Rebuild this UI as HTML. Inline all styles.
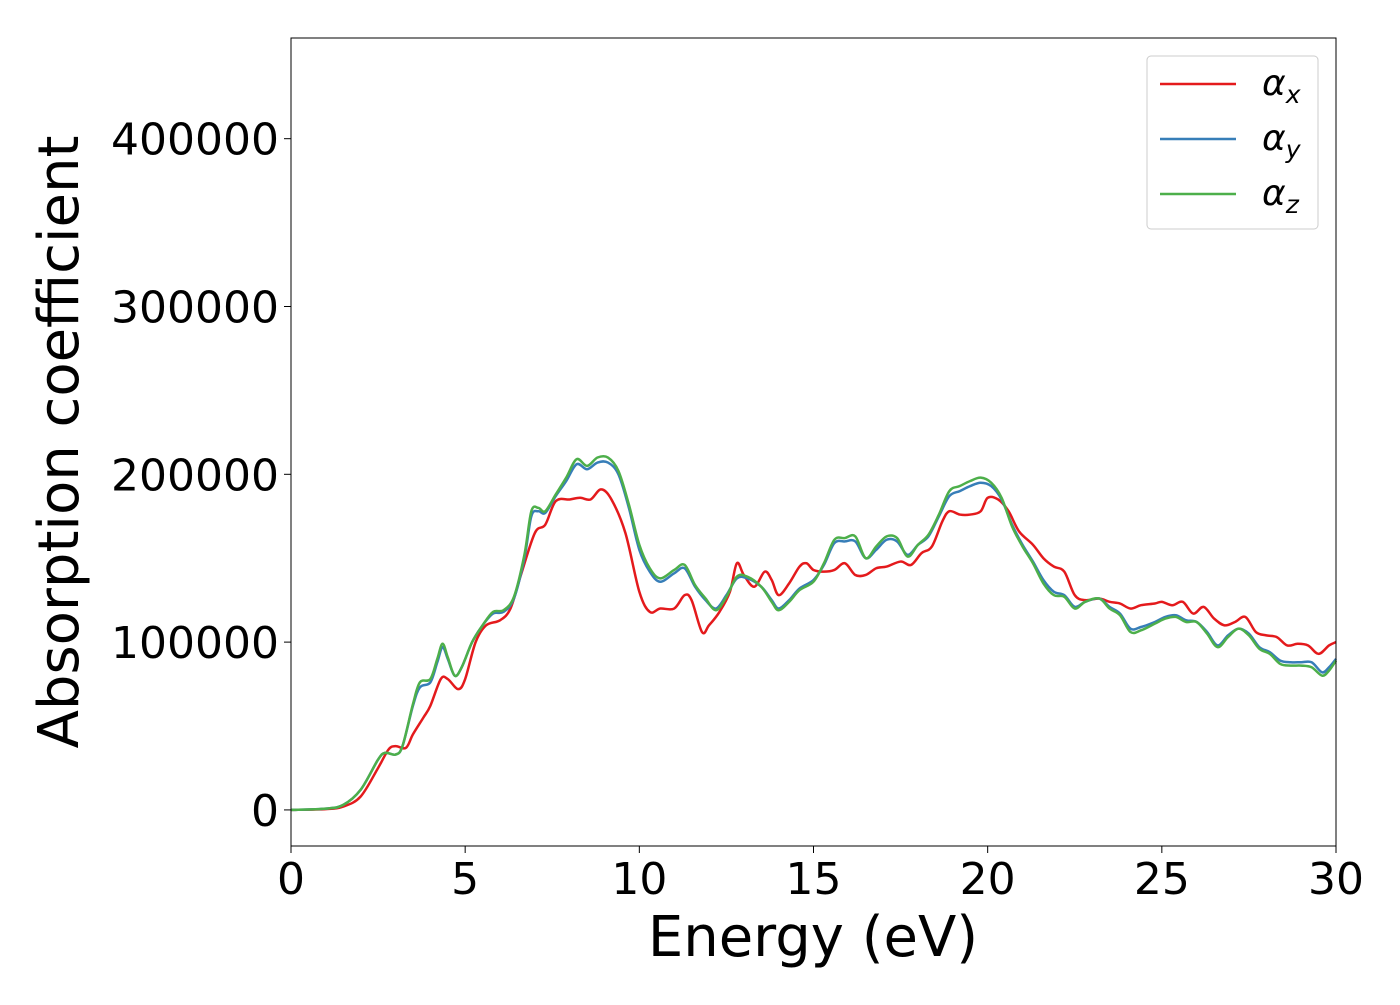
<!DOCTYPE html>
<html><head><meta charset="utf-8"><style>
body{margin:0;background:#fff}
svg text{font-family:"DejaVu Sans","Liberation Sans",sans-serif;fill:#000}
</style></head><body>
<svg id="chart" width="1400" height="1000" xmlns="http://www.w3.org/2000/svg">
<g id="plot"></g>
</svg>
<script>
const xTicks=[0,5,10,15,20,25,30];
const yTicks=[0,100000,200000,300000,400000];
const xsX=[0,1,1.5,2,2.5,2.8,3,3.3,3.5,3.8,4,4.3,4.5,4.8,5,5.3,5.6,6,6.3,6.6,7,7.3,7.6,8,8.3,8.6,8.9,9.2,9.6,10,10.3,10.6,11,11.3,11.5,11.8,12,12.3,12.6,12.8,13,13.3,13.6,13.8,14,14.3,14.6,14.8,15,15.3,15.6,15.9,16.2,16.5,16.8,17.1,17.5,17.8,18.1,18.4,18.7,18.9,19.2,19.5,19.8,20,20.3,20.6,20.9,21.3,21.6,21.9,22.2,22.5,22.8,23.2,23.5,23.8,24.1,24.4,24.8,25,25.3,25.6,25.9,26.2,26.5,26.8,27.1,27.4,27.7,28,28.3,28.6,28.9,29.2,29.5,29.8,30];
const alphaX=[0,500,2000,8000,25000,36000,38000,37000,45000,55000,62000,78000,78000,72000,78000,100000,110000,113000,120000,140000,165000,170000,184000,185000,186000,185000,191000,185000,165000,130000,118000,120000,120000,128000,125000,106000,110000,118000,130000,147000,140000,133000,142000,137000,128000,135000,145000,147000,143000,142000,143000,147000,140000,140000,144000,145000,148000,146000,153000,157000,172000,178000,176000,176000,178000,186000,185000,178000,166000,158000,150000,145000,142000,128000,125000,126000,124000,123000,120000,122000,123000,124000,122000,124000,117000,121000,114000,110000,112000,115000,106000,104000,103000,98000,99000,98000,93000,98000,100000];
const xsYZ=[0,1,1.5,2,2.5,2.7,3,3.2,3.5,3.7,4,4.2,4.35,4.5,4.7,4.9,5.2,5.5,5.8,6.1,6.4,6.7,6.9,7.1,7.3,7.6,7.9,8.2,8.5,8.8,9.1,9.4,9.7,10,10.3,10.6,11,11.3,11.6,11.9,12.2,12.5,12.8,13.1,13.5,13.8,14,14.3,14.6,15,15.3,15.6,15.9,16.2,16.5,16.8,17.1,17.4,17.7,18,18.3,18.6,18.9,19.2,19.5,19.8,20.1,20.4,20.7,21,21.3,21.6,21.9,22.2,22.5,22.8,23.2,23.5,23.8,24.1,24.4,24.8,25.1,25.4,25.7,26,26.3,26.6,26.9,27.2,27.5,27.8,28.1,28.4,28.7,29,29.3,29.6,29.8,30];
const alphaY=[0,800,3000,12000,30000,34000,33000,38000,62000,73000,76000,88000,97000,90000,80000,85000,100000,110000,117000,118000,126000,150000,175000,178000,177000,187000,196000,206000,203000,207000,207000,200000,180000,155000,142000,136000,141000,144000,133000,125000,120000,128000,138000,138000,133000,125000,120000,125000,132000,137000,146000,159000,160000,160000,150000,155000,161000,160000,152000,158000,163000,175000,187000,190000,193000,195000,193000,185000,170000,158000,148000,137000,130000,128000,121000,124000,126000,121000,117000,108000,109000,112000,115000,116000,113000,112000,106000,98000,104000,108000,105000,97000,94000,89000,88000,88000,88000,82000,85000,90000];
const alphaZ=[0,800,3000,12000,30000,34000,33000,38000,63000,76000,78000,90000,99000,91000,80000,85000,100000,110000,118000,119000,127000,152000,178000,180000,178000,188000,198000,209000,205000,210000,210000,202000,182000,158000,144000,138000,143000,146000,134000,126000,119000,127000,139000,139000,133000,124000,119000,124000,131000,136000,147000,161000,162000,163000,150000,157000,163000,162000,151000,158000,164000,176000,190000,193000,196000,198000,195000,186000,169000,157000,147000,135000,128000,127000,120000,124000,126000,120000,116000,106000,107000,111000,114000,115000,112000,112000,105000,97000,103000,108000,104000,96000,93000,87000,86000,86000,85000,80000,83000,89000];
const L=291,R=1336,T=38,B=846,XMIN=0,XMAX=30,YMIN=-21500,YMAX=460000;
const sx=v=>L+(v-XMIN)/(XMAX-XMIN)*(R-L);
const sy=v=>B-(v-YMIN)/(YMAX-YMIN)*(B-T);
const NS="http://www.w3.org/2000/svg";
const g=document.getElementById('plot');
function mk(t,a){const e=document.createElementNS(NS,t);for(const k in a)e.setAttribute(k,a[k]);g.appendChild(e);return e;}
function smooth(xs,ys){let p=xs.map((x,i)=>[sx(x),sy(ys[i])]);let d='M'+p[0][0]+','+p[0][1];
for(let i=0;i<p.length-1;i++){const p0=p[i-1]||p[i],p1=p[i],p2=p[i+1],p3=p[i+2]||p2;
d+=' C'+(p1[0]+(p2[0]-p0[0])/6)+','+(p1[1]+(p2[1]-p0[1])/6)+' '+(p2[0]-(p3[0]-p1[0])/6)+','+(p2[1]-(p3[1]-p1[1])/6)+' '+p2[0]+','+p2[1];}return d;}
const series=[[xsX,alphaX,'#e41a1c','series-alpha-x'],[xsYZ,alphaY,'#377eb8','series-alpha-y'],[xsYZ,alphaZ,'#4daf4a','series-alpha-z']];
series.forEach(s=>{const e=mk('path',{d:smooth(s[0],s[1]),fill:'none',stroke:s[2],'stroke-width':2.5});

});
const fr=mk('rect',{x:L,y:T,width:R-L,height:B-T,fill:'none',stroke:'#000','stroke-width':1});


xTicks.forEach(v=>{mk('line',{x1:sx(v),x2:sx(v),y1:B,y2:B+7,stroke:'#000'});
const t=mk('text',{x:sx(v),y:B+48,'font-size':44,'text-anchor':'middle'});t.textContent=v;

});
yTicks.forEach(v=>{mk('line',{x1:L-7,x2:L,y1:sy(v),y2:sy(v),stroke:'#000'});
const t=mk('text',{x:L-12,y:sy(v)+16,'font-size':44,'text-anchor':'end'});t.textContent=v;

});
const xl=mk('text',{x:813,y:956,'font-size':56,'text-anchor':'middle'});xl.textContent='Energy (eV)';


const yl=mk('text',{x:0,y:0,'font-size':56,'text-anchor':'middle',transform:'translate(78,442) rotate(-90)'});yl.textContent='Absorption coefficient';


const lb=mk('rect',{x:1147,y:56,width:171,height:173,rx:4,fill:'#fff',stroke:'#ccc'});


[['x','#e41a1c',84],['y','#377eb8',139],['z','#4daf4a',194]].forEach(e=>{
mk('line',{x1:1160,x2:1236,y1:e[2],y2:e[2],stroke:e[1],'stroke-width':2.5});
const t=mk('text',{x:1262,y:e[2]+11,'font-size':36,'font-style':'italic'});
t.innerHTML='α<tspan font-size="25" dy="8">'+e[0]+'</tspan>';

});
</script>
</body></html>
